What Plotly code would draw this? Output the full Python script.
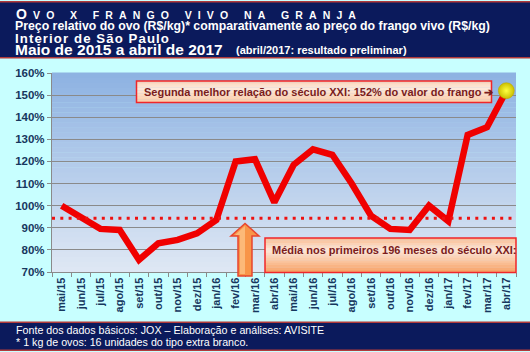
import plotly.graph_objects as go

# ---------------- data ----------------
CATEGORIES = ["mai/15", "jun/15", "jul/15", "ago/15", "set/15", "out/15", "nov/15", "dez/15",
              "jan/16", "fev/16", "mar/16", "abr/16", "mai/16", "jun/16", "jul/16", "ago/16",
              "set/16", "out/16", "nov/16", "dez/16", "jan/17", "fev/17", "mar/17", "abr/17"]
RATIO_PCT = [100, 95, 89.5, 89, 75.5, 83, 84.5, 87.5,
             93.5, 120, 121, 101.5, 118.5, 125.5, 123, 110,
             95.5, 89.5, 89, 100, 93, 132, 135.5, 152]
AVERAGE_PCT = 94.3
Y_TICKS = [70, 80, 90, 100, 110, 120, 130, 140, 150, 160]

TITLE_LINE1 = "Ovo x frango vivo na granja"
TITLE_LINE2 = "Preço relativo do ovo (R$/kg)* comparativamente ao preço do frango vivo (R$/kg)"
TITLE_LINE3 = "Interior de São Paulo"
TITLE_LINE4A = "Maio de 2015 a abril de 2017"
TITLE_LINE4B = "(abril/2017: resultado preliminar)"
NOTE_TOP = "Segunda melhor relação do século XXI: 152% do valor do frango ➔"
NOTE_AVG = "Média nos primeiros 196 meses do século XXI:"
FOOT1 = "Fonte dos dados básicos: JOX – Elaboração e análises: AVISITE"
FOOT2 = "* 1 kg de ovos: 16 unidades do tipo extra branco."

# ---------------- geometry ----------------
W, H = 530, 352
ML, MR, MT, MB = 52, 14, 73, 80
PW, PH = W - ML - MR, H - MT - MB


def px(x):
    return (x - ML) / PW


def py(y):
    return (H - MB - y) / PH


NAVY = "#0b1a5c"
CYAN = "#c8ffff"
BORDER_RED = "#b03a3a"
TICK_BLUE = "#17375e"
GRID = "#8a8a8a"


def lerp(c1, c2, t):
    a = [int(c1[i:i + 2], 16) for i in (1, 3, 5)]
    b = [int(c2[i:i + 2], 16) for i in (1, 3, 5)]
    return "#%02x%02x%02x" % tuple(round(a[k] + (b[k] - a[k]) * t) for k in range(3))


shapes = []

# header & footer bands
shapes.append(dict(type="rect", xref="paper", yref="paper", x0=px(0), x1=px(W), y0=py(1), y1=py(58.5),
                   fillcolor=BORDER_RED, line_width=0, layer="below"))
shapes.append(dict(type="rect", xref="paper", yref="paper", x0=px(0), x1=px(W), y0=py(2.5), y1=py(57),
                   fillcolor=NAVY, line_width=0, layer="below"))
shapes.append(dict(type="rect", xref="paper", yref="paper", x0=px(0), x1=px(W), y0=py(321.5), y1=py(351),
                   fillcolor=BORDER_RED, line_width=0, layer="below"))
shapes.append(dict(type="rect", xref="paper", yref="paper", x0=px(0), x1=px(W), y0=py(323), y1=py(349.5),
                   fillcolor=NAVY, line_width=0, layer="below"))

# plot-area vertical gradient
NB = 40
for i in range(NB):
    shapes.append(dict(type="rect", xref="x domain", yref="y domain", x0=0, x1=1,
                       y0=i / NB, y1=(i + 1) / NB + 0.002,
                       fillcolor=lerp("#dfe8f4", "#8db2e2", (i + 0.5) / NB), line_width=0, layer="below"))


def gradient_box(x0, x1, y0, y1, top, mid, bottom, n=14):
    # y0 top pixel, y1 bottom pixel
    for i in range(n):
        t = (i + 0.5) / n
        c = lerp(top, mid, t / 0.35) if t < 0.35 else lerp(mid, bottom, (t - 0.35) / 0.65)
        ya = y0 + (y1 - y0) * i / n
        yb = y0 + (y1 - y0) * (i + 1) / n + 0.3
        shapes.append(dict(type="rect", xref="paper", yref="paper", x0=px(x0), x1=px(x1),
                           y0=py(yb), y1=py(ya), fillcolor=c, line_width=0, layer="above"))
    shapes.append(dict(type="rect", xref="paper", yref="paper", x0=px(x0), x1=px(x1),
                       y0=py(y1), y1=py(y0), fillcolor="rgba(0,0,0,0)",
                       line=dict(color="#f0262a", width=1.5), layer="above"))


# average dotted line (data-driven y)
shapes.append(dict(type="line", xref="paper", yref="y", x0=0, x1=1, y0=AVERAGE_PCT, y1=AVERAGE_PCT,
                   line=dict(color="#ee1111", width=3, dash="3px,5.3px"), layer="above"))

# annotation boxes
gradient_box(136.5, 491.5, 81, 102.5, "#fbd2b6", "#fdeadd", "#fbcaa4")
gradient_box(265, 516, 238, 272.5, "#f9bb90", "#fde8da", "#f7a064")

# orange arrow
pts = [(245, 223.5), (231, 236), (238, 236), (238, 276), (252, 276), (252, 236), (259, 236)]
path = "M " + " L ".join(f"{px(a):.5f},{py(b):.5f}" for a, b in pts) + " Z"
shapes.append(dict(type="path", xref="paper", yref="paper", path=path,
                   fillcolor="#f89548", line=dict(color="#e8452e", width=1.5), layer="above"))
pts2 = [(245, 226), (235, 235), (240, 235), (240, 274), (245, 274)]
path2 = "M " + " L ".join(f"{px(a):.5f},{py(b):.5f}" for a, b in pts2) + " Z"
shapes.append(dict(type="path", xref="paper", yref="paper", path=path2,
                   fillcolor="rgba(255,215,160,0.55)", line_width=0, layer="above"))

fig = go.Figure()
fig.add_trace(go.Scatter(x=CATEGORIES, y=RATIO_PCT, mode="lines",
                         line=dict(color="#f00000", width=6.5), hoverinfo="skip", showlegend=False))
fig.add_trace(go.Scatter(x=[CATEGORIES[-1]], y=[RATIO_PCT[-1]], mode="markers",
                         marker=dict(size=16, color="#cbbf00",
                                     gradient=dict(type="radial", color="#ffff40"),
                                     line=dict(color="#b8a800", width=0.5)),
                         hoverinfo="skip", showlegend=False))

annotations = []

# title line 1 (spaced small caps)
words = TITLE_LINE1.upper().split(" ")
lg = "\u2002\u200a"
wg = "\u2002\u2002\u2002"
parts = []
for wi, wd in enumerate(words):
    letters = []
    for li, ch in enumerate(wd):
        if wi == 0 and li == 0:
            letters.append(f"<span style='font-size:14px'>{ch}</span>")
        else:
            letters.append(ch)
    parts.append(lg.join(letters))
line1 = wg.join(parts)

HF = "Liberation Sans, Arial"
annotations.append(dict(xref="paper", yref="paper", x=px(14), y=py(14.5), xanchor="left", yanchor="middle",
                        text=line1, showarrow=False,
                        font=dict(family=HF, size=10.5, color="white", weight="bold")))
annotations.append(dict(xref="paper", yref="paper", x=px(13), y=py(26.5), xanchor="left", yanchor="middle",
                        text=TITLE_LINE2, showarrow=False,
                        font=dict(family=HF, size=12.3, color="white", weight="bold")))
annotations.append(dict(xref="paper", yref="paper", x=px(13), y=py(38), xanchor="left", yanchor="middle",
                        text="\u200a".join(list(TITLE_LINE3)), showarrow=False,
                        font=dict(family=HF, size=13.2, color="white", weight="bold")))
annotations.append(dict(xref="paper", yref="paper", x=px(13), y=py(49.5), xanchor="left", yanchor="middle",
                        text=TITLE_LINE4A, showarrow=False,
                        font=dict(family=HF, size=15.5, color="white", weight="bold")))
annotations.append(dict(xref="paper", yref="paper", x=px(234), y=py(50), xanchor="left", yanchor="middle",
                        text=TITLE_LINE4B, showarrow=False,
                        font=dict(family="Liberation Sans Narrow, Liberation Sans, Arial", size=11,
                                  color="white", weight="bold")))

annotations.append(dict(xref="paper", yref="paper", x=px(142), y=py(92), xanchor="left", yanchor="middle",
                        text=NOTE_TOP, showarrow=False,
                        font=dict(family=HF, size=11, color="#7a1c1c", weight="bold")))
annotations.append(dict(xref="paper", yref="paper", x=px(270), y=py(250), xanchor="left", yanchor="middle",
                        text=NOTE_AVG, showarrow=False,
                        font=dict(family=HF, size=11, color="#7a1c1c", weight="bold")))

annotations.append(dict(xref="paper", yref="paper", x=px(14), y=py(330), xanchor="left", yanchor="middle",
                        text=FOOT1, showarrow=False,
                        font=dict(family=HF, size=10.7, color="white")))
annotations.append(dict(xref="paper", yref="paper", x=px(14), y=py(342), xanchor="left", yanchor="middle",
                        text=FOOT2, showarrow=False,
                        font=dict(family=HF, size=10.7, color="white")))

fig.update_layout(
    width=W, height=H,
    margin=dict(l=ML, r=MR, t=MT, b=MB, pad=0),
    paper_bgcolor=CYAN,
    plot_bgcolor="rgba(0,0,0,0)",
    shapes=shapes,
    annotations=annotations,
    showlegend=False,
    xaxis=dict(type="category", categoryorder="array", categoryarray=CATEGORIES,
               tickangle=-90, tickson="boundaries", ticks="outside", ticklen=4, tickcolor=GRID,
               showline=True, linecolor=GRID, linewidth=1.3, showgrid=False, zeroline=False,
               range=[-0.5, len(CATEGORIES) - 0.5],
               tickfont=dict(family=HF, size=11, color=TICK_BLUE, weight="bold")),
    yaxis=dict(range=[Y_TICKS[0], Y_TICKS[-1]], tickvals=Y_TICKS,
               ticktext=[f"{v}%" for v in Y_TICKS],
               ticks="outside", ticklen=4, tickcolor=GRID,
               showline=True, linecolor=GRID, linewidth=1.3,
               showgrid=True, gridcolor=GRID, gridwidth=1.3, zeroline=False,
               tickfont=dict(family=HF, size=11.5, color=TICK_BLUE, weight="bold")),
)

fig.write_html("out.html")
